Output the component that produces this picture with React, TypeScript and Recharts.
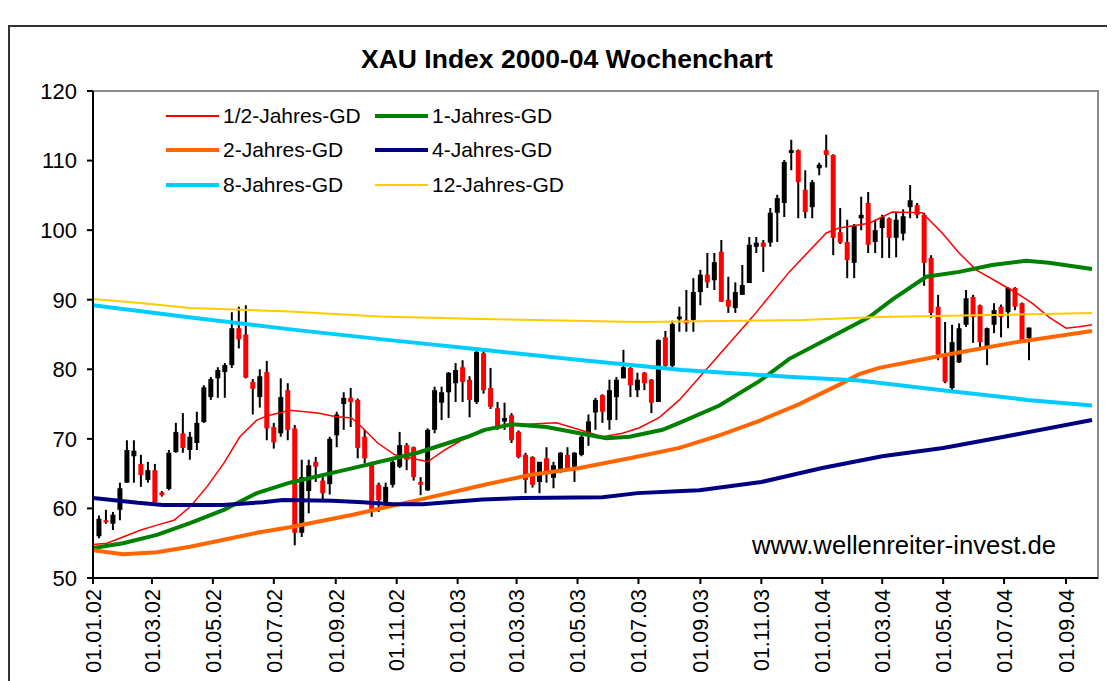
import React from 'react';
import { ComposedChart, Bar, Line, XAxis, YAxis, ReferenceArea } from 'recharts';

// ---------- text ----------
const TITLE = 'XAU Index 2000-04 Wochenchart';
const SOURCE = 'www.wellenreiter-invest.de';

// ---------- axes ----------
const AXIS_START = '2002-01-01';
const AXIS_END = '2004-10-03';
const xTickDates = [
  '2002-01-01', '2002-03-01', '2002-05-01', '2002-07-01', '2002-09-01', '2002-11-01',
  '2003-01-01', '2003-03-01', '2003-05-01', '2003-07-01', '2003-09-01', '2003-11-01',
  '2004-01-01', '2004-03-01', '2004-05-01', '2004-07-01', '2004-09-01',
];
const xTickLabels = [
  '01.01.02', '01.03.02', '01.05.02', '01.07.02', '01.09.02', '01.11.02',
  '01.01.03', '01.03.03', '01.05.03', '01.07.03', '01.09.03', '01.11.03',
  '01.01.04', '01.03.04', '01.05.04', '01.07.04', '01.09.04',
];
const yTicks = [50, 60, 70, 80, 90, 100, 110, 120];

// ---------- weekly candles (first week 07.01.2002) ----------
const FIRST_WEEK = '2002-01-07';
const opens = [
  56.0, 58.3, 57.8, 59.8, 63.7, 67.5, 66.4, 64.1, 65.5, 62.3,
  62.8, 68.1, 70.8, 68.4, 69.4, 72.4, 76.0, 78.7, 79.6, 80.6,
  85.9, 85.0, 78.2, 76.0, 79.6, 71.7, 70.8, 77.0, 71.5, 56.5,
  62.5, 66.7, 64.0, 63.5, 70.5, 75.0, 75.9, 75.6, 70.3, 66.5,
  63.4, 60.8, 63.4, 66.0, 69.1, 68.8, 63.8, 62.6, 71.3, 75.2,
  76.7, 78.0, 80.3, 78.5, 75.3, 82.3, 77.3, 74.4, 72.5, 73.4,
  71.0, 67.7, 67.4, 63.8, 67.2, 64.4, 65.5, 67.7, 66.0, 67.7,
  70.5, 73.8, 76.3, 72.7, 76.0, 78.7, 80.2, 77.0, 79.5, 78.5,
  75.3, 84.6, 80.5, 87.2, 87.1, 87.1, 91.1, 93.6, 92.8, 96.9,
  90.0, 88.8, 90.7, 92.4, 97.6, 98.2, 98.2, 102.5, 103.9, 111.1,
  111.5, 105.8, 103.3, 108.9, 111.5, 110.8, 99.7, 98.3, 95.3, 101.7,
  103.9, 98.3, 100.3, 101.7, 98.9, 99.5, 103.3, 103.6, 102.2, 96.0,
  89.0, 82.1, 77.3, 81.0, 86.4, 90.4, 89.2, 83.2, 86.4, 89.0,
  88.2, 91.7, 89.5, 84.5,
];
const highs = [
  59.0, 59.8, 59.5, 63.7, 69.8, 69.8, 67.7, 66.7, 66.4, 62.5,
  68.4, 72.3, 73.7, 71.0, 73.9, 77.7, 78.9, 80.3, 80.9, 88.2,
  89.0, 89.2, 78.6, 80.0, 81.2, 72.3, 78.7, 78.0, 72.0, 67.0,
  67.0, 67.4, 64.5, 70.3, 73.9, 76.7, 77.3, 75.8, 71.3, 66.7,
  63.7, 63.7, 67.4, 71.0, 69.4, 68.9, 64.5, 71.5, 77.5, 77.5,
  79.6, 80.9, 81.3, 79.0, 82.6, 82.7, 80.2, 75.3, 75.2, 73.7,
  71.2, 68.0, 67.5, 66.7, 68.8, 66.7, 68.1, 68.8, 68.1, 70.5,
  73.5, 75.9, 76.4, 78.5, 78.9, 82.8, 80.3, 79.5, 79.6, 78.6,
  84.3, 85.5, 87.0, 89.0, 91.4, 93.1, 94.3, 96.7, 96.7, 98.6,
  93.3, 92.5, 95.0, 99.0, 99.0, 98.6, 103.2, 105.1, 110.1, 113.0,
  111.6, 108.6, 107.2, 109.7, 113.7, 110.9, 103.2, 101.5, 100.9, 104.8,
  105.5, 101.5, 102.2, 101.8, 102.6, 103.0, 106.5, 103.9, 102.5, 96.4,
  90.7, 86.8, 86.4, 86.6, 91.4, 90.7, 89.3, 86.0, 89.5, 89.3,
  91.8, 91.8, 89.6, 86.0,
];
const lows = [
  55.7, 57.8, 56.9, 58.3, 63.7, 63.7, 63.1, 63.7, 60.9, 61.7,
  62.6, 68.0, 68.0, 67.0, 68.4, 72.3, 75.6, 75.9, 75.9, 80.2,
  83.0, 78.7, 73.5, 74.5, 69.8, 68.6, 70.3, 69.8, 54.7, 55.9,
  59.3, 63.8, 61.2, 62.0, 68.8, 71.3, 71.7, 67.2, 66.5, 58.8,
  59.5, 60.8, 63.0, 65.8, 65.5, 64.0, 61.9, 62.5, 70.8, 72.7,
  73.0, 75.3, 75.3, 73.1, 75.0, 76.5, 74.3, 71.3, 71.3, 69.4,
  67.2, 62.2, 63.0, 62.2, 63.7, 62.9, 65.1, 65.5, 63.8, 67.5,
  69.0, 71.3, 72.3, 71.3, 72.7, 78.7, 76.0, 76.0, 77.0, 73.7,
  75.3, 80.3, 80.3, 85.4, 85.4, 85.4, 89.2, 91.7, 91.4, 89.7,
  88.1, 88.1, 90.7, 92.4, 96.7, 94.0, 97.6, 98.3, 101.9, 108.6,
  101.7, 101.7, 101.7, 107.9, 109.0, 96.4, 98.0, 93.1, 93.1, 100.0,
  96.7, 96.7, 96.0, 96.0, 96.1, 98.5, 101.7, 101.7, 92.0, 87.4,
  81.3, 78.0, 77.0, 80.9, 86.1, 83.8, 83.2, 80.6, 85.2, 84.6,
  85.9, 88.5, 84.0, 81.3,
];
const closes = [
  58.5, 58.0, 59.1, 62.9, 68.4, 68.3, 64.8, 65.5, 60.9, 61.9,
  68.0, 71.0, 68.7, 70.3, 72.3, 77.4, 78.6, 79.9, 80.6, 85.9,
  84.3, 78.8, 77.2, 79.0, 71.5, 69.5, 76.0, 71.3, 56.5, 64.5,
  66.2, 66.0, 62.2, 70.0, 73.5, 75.9, 75.3, 68.7, 67.2, 59.8,
  61.2, 63.1, 66.7, 69.1, 67.0, 64.5, 63.4, 71.3, 77.0, 76.7,
  79.5, 79.9, 78.2, 75.6, 82.5, 77.0, 74.6, 71.7, 73.0, 69.8,
  67.4, 64.1, 63.4, 66.7, 65.1, 66.2, 68.0, 65.5, 68.0, 70.3,
  72.5, 75.6, 73.9, 77.0, 78.5, 80.3, 77.7, 78.5, 78.0, 75.2,
  84.2, 80.5, 86.5, 87.6, 86.6, 91.1, 93.6, 92.5, 95.4, 89.7,
  89.0, 91.1, 92.1, 97.9, 98.2, 97.6, 102.5, 104.6, 109.8, 111.5,
  106.9, 102.6, 106.9, 109.4, 110.8, 98.9, 98.2, 95.7, 100.7, 102.2,
  97.9, 100.0, 101.9, 98.9, 101.5, 102.0, 104.3, 102.2, 95.3, 88.1,
  82.1, 78.2, 83.9, 85.9, 90.2, 87.5, 83.9, 85.9, 88.5, 87.5,
  91.7, 89.0, 84.2, 86.0,
];

// ---------- moving averages: [day since 01.01.02, value] ----------
const maHalfYear: [number, number][] = [
  [0, 54.8], [14, 55.0], [30, 55.9], [48, 56.9], [64, 57.6], [81, 58.3], [97, 60.2],
  [114, 63.1], [131, 66.5], [147, 70.3], [164, 72.7], [174, 73.3], [197, 74.1], [225, 73.7],
  [242, 73.2], [259, 73.0], [269, 71.7], [285, 69.4], [302, 67.7], [319, 67.2], [335, 66.7],
  [352, 68.4], [369, 69.8], [392, 71.3], [420, 72.0], [464, 72.3], [487, 71.3], [510, 70.3],
  [530, 70.8], [547, 71.6], [567, 73.1], [587, 75.6], [622, 81.3], [660, 87.5], [697, 94.0],
  [734, 99.6], [747, 100.3], [777, 101.0], [800, 102.6], [830, 102.5], [850, 99.6],
  [867, 96.7], [884, 94.3], [907, 92.4], [924, 91.0], [940, 89.5], [957, 87.5], [974, 85.9],
  [987, 86.1], [1000, 86.4],
];
const maOneYear: [number, number][] = [
  [0, 54.3], [30, 55.0], [64, 56.2], [97, 57.9], [131, 59.8], [164, 62.2], [197, 63.7],
  [260, 65.8], [325, 68.0], [375, 70.3], [392, 71.3], [420, 72.1], [454, 71.7], [487, 70.8],
  [514, 70.1], [537, 70.3], [570, 71.3], [587, 72.3], [627, 74.8], [667, 78.3], [697, 81.5],
  [737, 84.5], [777, 87.5], [800, 90.0], [834, 93.3], [867, 94.0], [900, 95.0], [934, 95.6],
  [957, 95.3], [1000, 94.4],
];
const maTwoYear: [number, number][] = [
  [0, 54.0], [30, 53.4], [64, 53.7], [97, 54.5], [131, 55.5], [164, 56.5], [197, 57.3],
  [260, 59.1], [325, 61.2], [392, 63.4], [437, 64.8], [487, 65.8], [537, 67.2], [587, 68.7],
  [627, 70.5], [667, 72.6], [707, 75.0], [747, 77.8], [767, 79.3], [787, 80.2], [854, 82.1],
  [920, 83.8], [1000, 85.5],
];
const maFourYear: [number, number][] = [
  [0, 61.5], [45, 60.8], [70, 60.5], [130, 60.5], [170, 60.9], [190, 61.2], [240, 61.1],
  [270, 60.9], [300, 60.6], [330, 60.6], [355, 60.9], [390, 61.3], [430, 61.5], [510, 61.6],
  [545, 62.2], [590, 62.5], [607, 62.6], [669, 63.8], [730, 65.8], [790, 67.5], [851, 68.7],
  [912, 70.3], [1000, 72.7],
];
const maEightYear: [number, number][] = [
  [0, 89.2], [100, 87.4], [200, 85.7], [290, 84.3], [390, 82.8], [490, 81.3], [590, 79.9],
  [700, 78.9], [767, 78.4], [850, 77.0], [935, 75.6], [1000, 74.8],
];
const maTwelveYear: [number, number][] = [
  [0, 90.1], [50, 89.5], [97, 88.8], [197, 88.3], [287, 87.6], [400, 87.2], [547, 86.8],
  [710, 87.1], [787, 87.5], [1000, 88.1],
];

// ---------- series styling ----------
const SERIES = [
  { name: '1/2-Jahres-GD', data: maHalfYear, color: '#ff0000', width: 1.5 },
  { name: '1-Jahres-GD', data: maOneYear, color: '#008000', width: 4 },
  { name: '2-Jahres-GD', data: maTwoYear, color: '#ff6600', width: 4 },
  { name: '4-Jahres-GD', data: maFourYear, color: '#000080', width: 4 },
  { name: '8-Jahres-GD', data: maEightYear, color: '#00ccff', width: 4 },
  { name: '12-Jahres-GD', data: maTwelveYear, color: '#ffcc00', width: 2 },
];

const FONT = "'Liberation Sans', Arial, sans-serif";

const DAY = 86400000;
const dayOf = (s: string) => Math.round((Date.parse(s) - Date.parse(AXIS_START)) / DAY);
const xTickDays = xTickDates.map(dayOf);
const X_MAX = dayOf(AXIS_END);
const firstDay = dayOf(FIRST_WEEK);

const candles = opens.map((o, i) => ({
  day: firstDay + 7 * i,
  open: o,
  high: highs[i],
  low: lows[i],
  close: closes[i],
  range: [lows[i], highs[i]],
}));

const lineData = SERIES.map((s) => s.data.map(([d, v]) => ({ day: d, v })));

const Candle = (props: any) => {
  const { x, y, width, height, payload } = props;
  if (!payload || x == null || y == null) return null;
  const { open, close, high, low } = payload;
  const top = Math.min(y, y + height);
  const bottom = Math.max(y, y + height);
  const k = high !== low ? (bottom - top) / (high - low) : 0;
  const py = (v: number) => top + (high - v) * k;
  const cx = x + width / 2;
  const yo = py(open);
  const yc = py(close);
  const up = close >= open;
  const bt = Math.min(yo, yc);
  const bh = Math.max(Math.abs(yc - yo), 2);
  return (
    <g>
      <line x1={cx} x2={cx} y1={top} y2={bottom} stroke="#000" strokeWidth={2} />
      <rect x={cx - 2.5} y={bt} width={5} height={bh} fill={up ? '#000' : '#ff0000'} />
    </g>
  );
};

const XTick = (props: any) => {
  const { x, y, payload } = props;
  const i = xTickDays.indexOf(payload.value);
  return (
    <text
      transform={`translate(${x},${y + 5}) rotate(-90)`}
      textAnchor="end"
      dy="0.36em"
      fontFamily={FONT}
      fontSize={21.5}
      fill="#000"
    >
      {xTickLabels[i]}
    </text>
  );
};

const LEGEND_POS = [
  { left: 158, top: 108 },
  { left: 367, top: 108 },
  { left: 158, top: 142 },
  { left: 367, top: 142 },
  { left: 158, top: 177 },
  { left: 367, top: 177 },
];

export default function App() {
  return (
    <div style={{ position: 'relative', width: 1107, height: 673, background: '#fff' }}>
      <style>{'html,body{overflow:hidden;background:#fff}'}</style>
      <div
        style={{
          position: 'absolute', left: 0, top: 17, width: 1105, height: 654,
          borderLeft: '2px solid #333', borderTop: '2px solid #333',
        }}
      />
      <div style={{ position: 'absolute', left: 0, top: 0 }}>
        <ComposedChart width={1107} height={673} data={candles} margin={{ top: 83, right: 17, left: 0, bottom: 0 }}>
          <ReferenceArea x1={0} x2={X_MAX} y1={50} y2={120} fill="#fff" fillOpacity={1} stroke="#8c8c8c" strokeWidth={2} ifOverflow="visible" />
          <XAxis
            dataKey="day"
            type="number"
            domain={[0, X_MAX]}
            allowDataOverflow
            ticks={xTickDays}
            interval={0}
            height={103}
            tickSize={6}
            tickMargin={0}
            tick={<XTick />}
            axisLine={{ stroke: '#000', strokeWidth: 2 }}
            tickLine={{ stroke: '#000', strokeWidth: 2 }}
          />
          <YAxis
            type="number"
            domain={[50, 120]}
            ticks={yTicks}
            interval={0}
            width={85}
            tickSize={6}
            tickMargin={10}
            axisLine={{ stroke: '#000', strokeWidth: 2 }}
            tickLine={{ stroke: '#000', strokeWidth: 2 }}
            tick={{ fontFamily: FONT, fontSize: 22, fill: '#000' }}
          />
          <Bar dataKey="range" barSize={5} shape={<Candle />} isAnimationActive={false} />
          {SERIES.map((s, i) => (
            <Line
              key={s.name}
              data={lineData[i]}
              dataKey="v"
              name={s.name}
              type="linear"
              stroke={s.color}
              strokeWidth={s.width}
              dot={false}
              activeDot={false}
              isAnimationActive={false}
            />
          ))}
        </ComposedChart>
      </div>
      <div
        style={{
          position: 'absolute', left: 259, top: 36, width: 600, textAlign: 'center',
          fontFamily: FONT, fontWeight: 'bold', fontSize: 26.5, lineHeight: '30px', color: '#000',
          whiteSpace: 'nowrap',
        }}
      >
        {TITLE}
      </div>
      {SERIES.map((s, i) => (
        <div key={s.name} style={{ position: 'absolute', left: LEGEND_POS[i].left, top: LEGEND_POS[i].top - 15, height: 30, display: 'flex', alignItems: 'center', whiteSpace: 'nowrap' }}>
          <div style={{ width: 53, height: s.width > 2 ? 4 : 2, background: s.color, marginRight: 4 }} />
          <span style={{ fontFamily: FONT, fontSize: 21, color: '#000' }}>{s.name}</span>
        </div>
      ))}
      <div
        style={{
          position: 'absolute', left: 744, top: 522, whiteSpace: 'nowrap',
          fontFamily: FONT, fontSize: 25.7, lineHeight: '30px', color: '#000',
        }}
      >
        {SOURCE}
      </div>
    </div>
  );
}
